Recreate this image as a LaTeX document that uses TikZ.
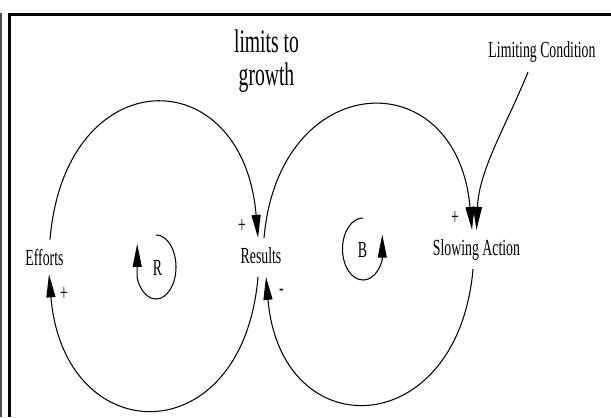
\documentclass[tikz,border=0pt]{standalone}
\usepackage{fontspec}
\setmainfont[FakeStretch=0.6]{Liberation Serif}
\usetikzlibrary{arrows.meta}

\begin{document}
\begin{tikzpicture}[scale=1.0,
    every node/.style={font=\fontsize{13.1}{15}\selectfont},
    var/.style={inner xsep=1pt, inner ysep=5pt, anchor=base},
    sign/.style={inner sep=0pt},
    link/.style={line width=0.6pt, -{Triangle[length=0.46cm, width=0.18cm]}}]
    \useasboundingbox (0,0) rectangle (12.22,8.34);

    % 边框
    \draw[black!70, line width=0.04cm] (0.02,0) -- (0.02,8.08);
    \draw[line width=0.06cm] (0.19,0) -- (0.19,8.05) -- (12.22,8.05);

    % 变量
    \node[var] (eff) at (0.89,3.04) {Efforts};
    \node[var] (res) at (5.22,3.08) {Results};
    \node[var] (slow) at (9.53,3.24) {Slowing Action};
    \node[var] (lim) at (10.84,7.18) {Limiting Condition};
    \node[align=center, font=\fontsize{18.6}{18.8}\selectfont] (title) at (5.33,7.12) {limits to\\growth};

    % 回路标记
    \node[var] (rmark) at (3.15,2.84) {R};
    \node[var] (bmark) at (7.25,3.20) {B};
    \draw[link] (3.12,3.64) arc[start angle=90, end angle=-160, x radius=0.40, y radius=0.64] -- ++(0,0.68);
    \draw[link] (7.26,3.98) arc[start angle=90, end angle=340, x radius=0.41, y radius=0.62] -- ++(0,0.5);

    % 因果链
    \draw[link] ([xshift=0.11cm]eff.north) .. controls +(0.3,3.6) and +(-0.3,3.6) .. ([xshift=-0.06cm]res.north);
    \draw[link] ([shift={(-0.06,-0.09)}]res.south) .. controls +(-0.3,-3.55) and +(0.3,-3.55) .. ([xshift=0.09cm]eff.south);
    \draw[link] ([xshift=0.06cm]res.north) .. controls +(0.3,3.4) and +(-0.3,3.4) .. ([xshift=-0.09cm]slow.north);
    \draw[link] ([xshift=-0.07cm]slow.south) .. controls +(-0.3,-3.45) and +(0.3,-3.45) .. ([shift={(0.1,-0.09)}]res.south);
    \draw[link] ([xshift=-0.28cm]lim.south) .. controls +(-0.45,-1.1) and +(0.05,1.2) .. (slow.north);

    % 极性
    \node[sign] (p1) at (1.28,2.46) {+};
    \node[sign] (p2) at (4.84,3.82) {+};
    \node[sign] (m1) at (5.63,2.50) {-};
    \node[sign] (p3) at (9.10,3.98) {+};
\end{tikzpicture}
\end{document}
